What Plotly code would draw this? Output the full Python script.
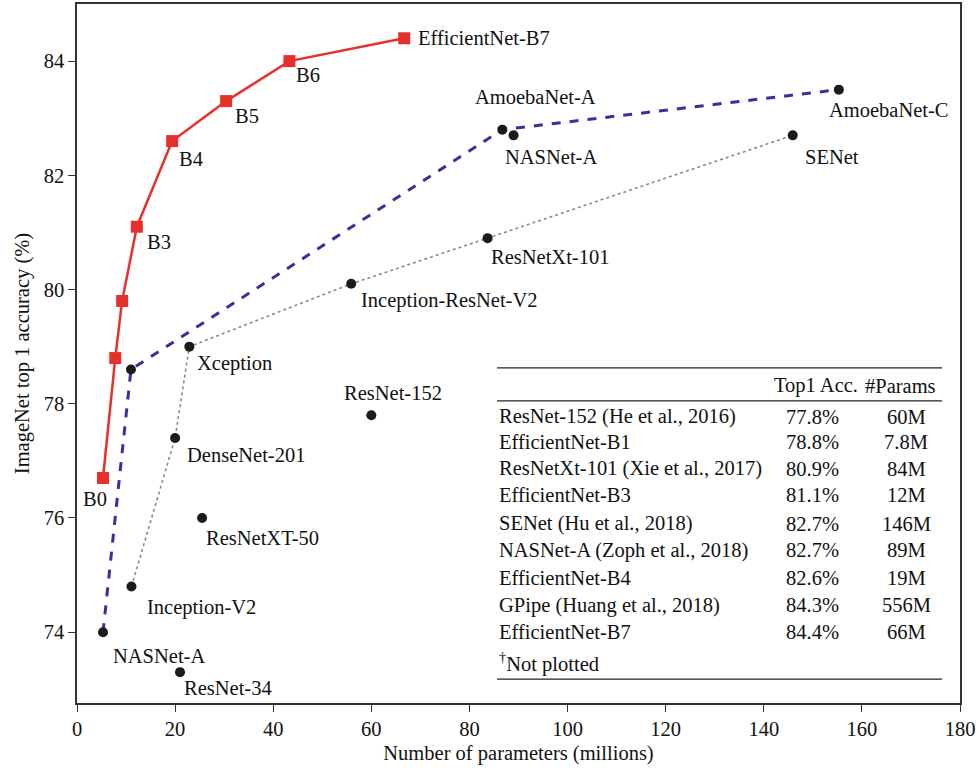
import plotly.graph_objects as go

# ---------------- data ----------------
eff_names = ["B0", "B1", "B2", "B3", "B4", "B5", "B6", "EfficientNet-B7"]
eff_params = [5.3, 7.8, 9.2, 12.2, 19.4, 30.4, 43.3, 66.7]
eff_acc = [76.7, 78.8, 79.8, 81.1, 82.6, 83.3, 84.0, 84.4]
eff_label_show = [True, False, False, True, True, True, True, True]

nas_names = ["NASNet-A", "", "AmoebaNet-A", "AmoebaNet-C"]
nas_params = [5.3, 11.0, 86.7, 155.3]
nas_acc = [74.0, 78.6, 82.8, 83.5]

dot_names = ["Inception-V2", "DenseNet-201", "Xception", "Inception-ResNet-V2", "ResNetXt-101", "SENet"]
dot_params = [11.1, 20.0, 22.9, 55.9, 83.7, 145.9]
dot_acc = [74.8, 77.4, 79.0, 80.1, 80.9, 82.7]

other_names = ["NASNet-A", "ResNet-152", "ResNetXT-50", "ResNet-34"]
other_params = [89.0, 60.0, 25.5, 21.0]
other_acc = [82.7, 77.8, 76.0, 73.3]

table_models = ["ResNet-152 (He et al., 2016)", "EfficientNet-B1", "ResNetXt-101 (Xie et al., 2017)",
                "EfficientNet-B3", "SENet (Hu et al., 2018)", "NASNet-A (Zoph et al., 2018)",
                "EfficientNet-B4", "GPipe (Huang et al., 2018)", "EfficientNet-B7"]
table_acc = ["77.8%", "78.8%", "80.9%", "81.1%", "82.7%", "82.7%", "82.6%", "84.3%", "84.4%"]
table_params = ["60M", "7.8M", "84M", "12M", "146M", "89M", "19M", "556M", "66M"]

x_ticks = [0, 20, 40, 60, 80, 100, 120, 140, 160, 180]
y_ticks = [74, 76, 78, 80, 82, 84]

# ---------------- style ----------------
FONT = "Liberation Serif"
FS = 20.5
RED = "#e8302a"
BLUE = "#3b2f9c"
DARK = "#1b1b1b"

# layout geometry in pixels
W, H = 978, 771
L, R, T, B = 77, 18, 2, 68
PW, PH = W - L - R, H - T - B


def px(xp):
    return (xp - L) / PW


def py(yp):
    return (H - B - yp) / PH


fig = go.Figure()

fig.add_trace(go.Scatter(x=dot_params, y=dot_acc, mode="lines",
                         line=dict(color="#8a8a8a", width=1.6, dash="dot"),
                         hoverinfo="skip", showlegend=False))
fig.add_trace(go.Scatter(x=nas_params, y=nas_acc, mode="lines",
                         line=dict(color=BLUE, width=3, dash="dash"),
                         hoverinfo="skip", showlegend=False))
fig.add_trace(go.Scatter(x=dot_params + other_params + nas_params,
                         y=dot_acc + other_acc + nas_acc, mode="markers",
                         marker=dict(color=DARK, size=10, symbol="circle"),
                         showlegend=False))
fig.add_trace(go.Scatter(x=eff_params, y=eff_acc, mode="lines+markers",
                         line=dict(color=RED, width=2.5),
                         marker=dict(color=RED, size=12, symbol="square"),
                         showlegend=False))

# labels: (name, x, y, xanchor, xshift, yshift)
labels = []
eff_offsets = [("right", 6, -21), None, None, ("left", 8, -15), ("left", 5, -18),
               ("left", 7, -15), ("left", 5, -14), ("left", 12, 0)]
for n, x, y, show, off in zip(eff_names, eff_params, eff_acc, eff_label_show, eff_offsets):
    if show:
        labels.append((n, x, y, off[0], off[1], off[2]))

nas_offsets = [("left", 8, -24), None, ("center", 33, 33), ("left", -12, -20)]
for n, x, y, off in zip(nas_names, nas_params, nas_acc, nas_offsets):
    if n:
        labels.append((n, x, y, off[0], off[1], off[2]))

dot_offsets = [("left", 14, -21), ("left", 10, -17), ("left", 6, -17),
               ("left", 8, -17), ("left", 1, -19), ("left", 10, -22)]
for n, x, y, off in zip(dot_names, dot_params, dot_acc, dot_offsets):
    labels.append((n, x, y, off[0], off[1], off[2]))

other_offsets = [("left", -11, -22), ("center", 22, 22), ("left", 2, -20), ("left", 2, -16)]
for n, x, y, off in zip(other_names, other_params, other_acc, other_offsets):
    labels.append((n, x, y, off[0], off[1], off[2]))

for n, x, y, xa, xs, ys in labels:
    fig.add_annotation(x=x, y=y, text=n, showarrow=False, xanchor=xa, yanchor="middle",
                       xshift=xs, yshift=ys, font=dict(family=FONT, size=FS, color="#111"))

# ---------------- table ----------------
tx0, tx1 = 497, 942
shapes = []
shapes.append(dict(type="rect", xref="paper", yref="paper", x0=px(tx0), x1=px(tx1),
                   y0=py(682), y1=py(367), fillcolor="white", line=dict(width=0), layer="below"))
for yl in [367, 400, 679]:
    shapes.append(dict(type="line", xref="paper", yref="paper", x0=px(tx0), x1=px(tx1),
                       y0=py(yl), y1=py(yl), line=dict(color="#222", width=1.3)))
fig.update_layout(shapes=shapes)

tfont = dict(family=FONT, size=FS, color="#111")
fig.add_annotation(xref="paper", yref="paper", x=px(816), y=py(385), text="Top1 Acc.",
                   showarrow=False, xanchor="center", yanchor="middle", font=tfont)
fig.add_annotation(xref="paper", yref="paper", x=px(900), y=py(385), text="#Params",
                   showarrow=False, xanchor="center", yanchor="middle", font=tfont)
row_y = [416, 441, 468, 494, 523, 550, 578, 605, 632]
for m, a, p, yy in zip(table_models, table_acc, table_params, row_y):
    fig.add_annotation(xref="paper", yref="paper", x=px(tx0), y=py(yy), text=m,
                       showarrow=False, xanchor="left", yanchor="middle", font=tfont)
    fig.add_annotation(xref="paper", yref="paper", x=px(812), y=py(yy), text=a,
                       showarrow=False, xanchor="center", yanchor="middle", font=tfont)
    fig.add_annotation(xref="paper", yref="paper", x=px(906), y=py(yy), text=p,
                       showarrow=False, xanchor="center", yanchor="middle", font=tfont)
fig.add_annotation(xref="paper", yref="paper", x=px(tx0), y=py(662),
                   text="<sup><span style='color:#111'>†</span></sup>Not plotted",
                   showarrow=False, xanchor="left", yanchor="middle", font=tfont)

axis_common = dict(showline=True, linecolor="#333", linewidth=1.5, mirror=True,
                   ticks="outside", ticklen=7, tickwidth=1.3, tickcolor="#333",
                   showgrid=False, zeroline=False,
                   tickfont=dict(family=FONT, size=FS, color="#111"))

fig.update_xaxes(range=[0, 180], tickvals=x_ticks, **axis_common,
                 title=dict(text="Number of parameters (millions)", standoff=6,
                            font=dict(family=FONT, size=FS, color="#111")))
fig.update_yaxes(range=[72.76, 85.0], tickvals=y_ticks, **axis_common,
                 title=dict(text="ImageNet top 1 accuracy (%)", standoff=8,
                            font=dict(family=FONT, size=FS, color="#111")))

fig.update_layout(width=W, height=H, margin=dict(l=L, r=R, t=T, b=B),
                  paper_bgcolor="white", plot_bgcolor="white")

fig.write_html("out.html", config={"displayModeBar": False},
               post_script="document.body.style.margin='0';")
